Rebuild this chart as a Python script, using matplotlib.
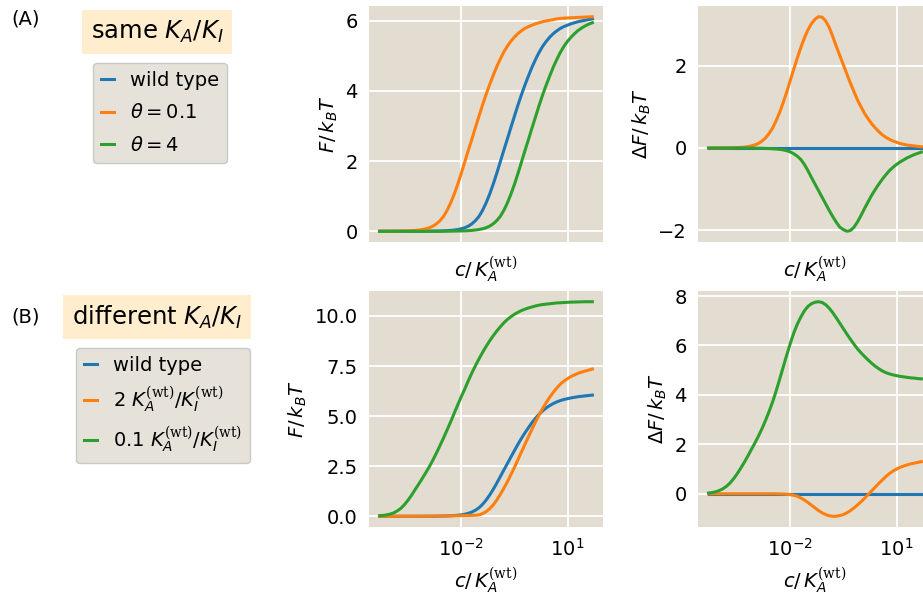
import matplotlib
matplotlib.use("Agg")
import matplotlib.pyplot as plt
import numpy as np
from matplotlib.ticker import NullLocator

plt.rcParams["font.family"] = ["DejaVu Sans"]
plt.rcParams["mathtext.fontset"] = "custom"
plt.rcParams["mathtext.rm"] = "DejaVu Sans"
plt.rcParams["mathtext.it"] = "DejaVu Sans:italic"
plt.rcParams["mathtext.bf"] = "DejaVu Sans:bold"
plt.rcParams["mathtext.sf"] = "DejaVu Serif"

# exponent of c / K_A(wt)
log_c = [-4.3, -4.2, -4.1, -4.0, -3.9, -3.8, -3.7, -3.6, -3.5, -3.4, -3.3,
         -3.2, -3.1, -3.0, -2.9, -2.8, -2.7, -2.6, -2.5, -2.4, -2.3, -2.2,
         -2.1, -2.0, -1.9, -1.8, -1.7, -1.6, -1.5, -1.4, -1.3, -1.2, -1.1,
         -1.0, -0.9, -0.8, -0.7, -0.6, -0.5, -0.4, -0.3, -0.2, -0.1, 0.0,
         0.1, 0.2, 0.3, 0.4, 0.5, 0.6, 0.7, 0.8, 0.9, 1.0, 1.1, 1.2, 1.3,
         1.4, 1.5, 1.6, 1.7]

# free energy F / kBT
F_wt = [0, 0, 0, 0, 0, 0, 0, 0, 0, 0, 0, 0,
        0.001, 0.002, 0.003, 0.005, 0.007, 0.009, 0.012, 0.018, 0.025, 0.035,
        0.05, 0.07, 0.10, 0.145, 0.21, 0.30, 0.42, 0.59, 0.80, 1.05, 1.33,
        1.64, 1.97, 2.30, 2.62, 2.95, 3.27, 3.59, 3.89, 4.17, 4.43, 4.68,
        4.90, 5.10, 5.27, 5.41, 5.53, 5.63, 5.71, 5.78, 5.83, 5.87, 5.91,
        5.94, 5.97, 5.99, 6.01, 6.03, 6.05]
F_theta01 = [0, 0, 0.001, 0.002, 0.003, 0.005, 0.007, 0.009, 0.012, 0.018,
             0.025, 0.035, 0.05, 0.07, 0.10, 0.145, 0.21, 0.30, 0.42, 0.59,
             0.80, 1.05, 1.33, 1.64, 1.97, 2.30, 2.62, 2.95, 3.27, 3.59, 3.89,
             4.17, 4.43, 4.68, 4.90, 5.10, 5.27, 5.41, 5.53, 5.63, 5.71, 5.78,
             5.83, 5.87, 5.91, 5.94, 5.97, 5.99, 6.01, 6.03, 6.05, 6.06, 6.07,
             6.075, 6.08, 6.085, 6.09, 6.095, 6.10, 6.105, 6.11]
F_theta4 = [0, 0, 0, 0, 0, 0, 0, 0, 0, 0, 0, 0, 0, 0, 0, 0, 0, 0,
            0.001, 0.002, 0.003, 0.005, 0.007, 0.009, 0.012, 0.018, 0.025,
            0.035, 0.05, 0.07, 0.10, 0.145, 0.21, 0.30, 0.42, 0.59, 0.80, 1.05,
            1.33, 1.64, 1.97, 2.30, 2.62, 2.95, 3.27, 3.59, 3.89, 4.17, 4.43,
            4.68, 4.90, 5.10, 5.27, 5.41, 5.53, 5.63, 5.72, 5.79, 5.85, 5.90,
            5.94]
F_ratio2 = [0, 0, 0, 0, 0, 0, 0, 0, 0, 0, 0, 0,
            0.001, 0.002, 0.003, 0.005, 0.007, 0.009, 0.012, 0.016, 0.02, 0.025,
            0.03, 0.035, 0.04, 0.04, 0.045, 0.05, 0.07, 0.13, 0.23, 0.37, 0.56,
            0.80, 1.08, 1.39, 1.71, 2.07, 2.43, 2.82, 3.21, 3.60, 3.98, 4.36,
            4.72, 5.07, 5.39, 5.68, 5.95, 6.19, 6.41, 6.60, 6.75, 6.87, 6.98,
            7.06, 7.14, 7.20, 7.25, 7.30, 7.35]
F_ratio01 = [0.03, 0.045, 0.07, 0.11, 0.17, 0.27, 0.40, 0.58, 0.80, 1.05, 1.33,
             1.60, 1.88, 2.17, 2.47, 2.80, 3.15, 3.52, 3.90, 4.30, 4.70, 5.13,
             5.55, 5.96, 6.35, 6.76, 7.15, 7.51, 7.85, 8.17, 8.47, 8.75, 9.00,
             9.24, 9.45, 9.65, 9.82, 9.96, 10.08, 10.18, 10.27, 10.34, 10.40,
             10.45, 10.50, 10.54, 10.57, 10.59, 10.61, 10.63, 10.65, 10.66,
             10.67, 10.68, 10.69, 10.695, 10.70, 10.705, 10.71, 10.71, 10.71]

# free energy shift dF / kBT relative to wild type
dF_wt = [0] * 61
dF_theta01 = [0, 0, 0.001, 0.001, 0.002, 0.003, 0.005, 0.007, 0.01, 0.014,
              0.02, 0.032, 0.05, 0.075, 0.11, 0.165, 0.24, 0.35, 0.48, 0.66,
              0.86, 1.10, 1.36, 1.64, 1.92, 2.19, 2.45, 2.68, 2.88, 3.03, 3.14,
              3.20, 3.19, 3.10, 2.94, 2.72, 2.48, 2.25, 2.03, 1.80, 1.58, 1.37,
              1.17, 1.00, 0.84, 0.71, 0.59, 0.49, 0.40, 0.32, 0.26, 0.21, 0.17,
              0.14, 0.11, 0.09, 0.07, 0.06, 0.05, 0.04, 0.03]
dF_theta4 = [0, 0, 0, 0, 0, 0, 0, 0, 0, 0, 0, 0,
             -0.002, -0.003, -0.005, -0.007, -0.01, -0.014, -0.019, -0.025,
             -0.033, -0.045, -0.065, -0.095, -0.14, -0.20, -0.28, -0.40, -0.55,
             -0.72, -0.88, -1.04, -1.20, -1.36, -1.52, -1.67, -1.81, -1.93,
             -1.99, -2.03, -2.01, -1.93, -1.80, -1.64, -1.47, -1.31, -1.15,
             -1.01, -0.88, -0.76, -0.65, -0.55, -0.47, -0.40, -0.34, -0.29,
             -0.24, -0.20, -0.16, -0.13, -0.10]
dF_ratio2 = [0, 0, 0, 0, 0, 0, 0, 0, 0, 0, 0, 0, 0, 0, 0, 0, 0, 0, 0,
             -0.002, -0.005, -0.01, -0.02, -0.035, -0.06, -0.10, -0.17, -0.25,
             -0.35, -0.46, -0.57, -0.68, -0.77, -0.84, -0.89, -0.91, -0.91,
             -0.88, -0.84, -0.77, -0.68, -0.57, -0.45, -0.32, -0.18, -0.03,
             0.12, 0.27, 0.42, 0.56, 0.70, 0.82, 0.92, 1.00, 1.07, 1.12, 1.17,
             1.21, 1.24, 1.27, 1.30]
dF_ratio01 = [0.03, 0.05, 0.08, 0.13, 0.20, 0.30, 0.43, 0.60, 0.80, 1.02, 1.26,
              1.51, 1.78, 2.04, 2.32, 2.62, 2.95, 3.31, 3.70, 4.14, 4.62, 5.11,
              5.60, 6.07, 6.50, 6.86, 7.15, 7.40, 7.58, 7.69, 7.75, 7.77, 7.74,
              7.65, 7.51, 7.33, 7.12, 6.90, 6.68, 6.46, 6.25, 6.05, 5.86, 5.70,
              5.55, 5.41, 5.28, 5.16, 5.06, 4.97, 4.90, 4.85, 4.81, 4.78, 4.75,
              4.73, 4.71, 4.69, 4.68, 4.66, 4.65]

labels_A = ["wild type", r"$\theta=0.1$", r"$\theta=4$"]
labels_B = ["wild type",
            r"2 $K_A^{\mathsf{(wt)}}/K_I^{\mathsf{(wt)}}$",
            r"0.1 $K_A^{\mathsf{(wt)}}/K_I^{\mathsf{(wt)}}$"]
colors = ["#1f77b4", "#ff7f0e", "#2ca02c"]

c = 10.0 ** np.array(log_c)

W, H = 923, 600
fig = plt.figure(figsize=(W / 100, H / 100), dpi=100)


def make_ax(x0, y_top, w=234, h=236):
    ax = fig.add_axes([x0 / W, 1 - (y_top + h) / H, w / W, h / H])
    ax.set_facecolor("#E3DCD0")
    for s in ax.spines.values():
        s.set_visible(False)
    ax.grid(True, color="white", lw=1.3)
    ax.set_axisbelow(True)
    ax.set_xscale("log")
    ax.set_xticks([1e-2, 1e1])
    ax.xaxis.set_minor_locator(NullLocator())
    ax.tick_params(length=0, pad=8, labelsize=14)
    return ax


ax1 = make_ax(369, 6)
ax2 = make_ax(698, 6)
ax3 = make_ax(369, 291)
ax4 = make_ax(698, 291)

lines_A = []
for ys, col in zip([F_wt, F_theta01, F_theta4], colors):
    lines_A += ax1.plot(c, ys, color=col, lw=2.2)
for ys, col in zip([dF_wt, dF_theta01, dF_theta4], colors):
    ax2.plot(c, ys, color=col, lw=2.2)
lines_B = []
for ys, col in zip([F_wt, F_ratio2, F_ratio01], colors):
    lines_B += ax3.plot(c, ys, color=col, lw=2.2)
for ys, col in zip([dF_wt, dF_ratio2, dF_ratio01], colors):
    ax4.plot(c, ys, color=col, lw=2.2)

ax1.set_yticks([0, 2, 4, 6])
ax2.set_yticks([-2, 0, 2])
ax3.set_yticks([0, 2.5, 5, 7.5, 10])
ax4.set_yticks([0, 2, 4, 6, 8])

xlab = r"$c/\,K_A^{\mathsf{(wt)}}$"
for ax in (ax1, ax2):
    ax.tick_params(labelbottom=False)
    ax.set_xlabel(xlab, fontsize=14, labelpad=9)
for ax in (ax3, ax4):
    ax.set_xlabel(xlab, fontsize=14)
for ax in (ax1, ax3):
    ax.set_ylabel(r"$F/\,k_BT$", fontsize=14)
for ax in (ax2, ax4):
    ax.set_ylabel(r"$\Delta F/\,k_BT$", fontsize=14)

fig.text(11 / W, 1 - 19 / H, "(A)", ha="left", va="center", fontsize=14)
fig.text(11 / W, 1 - 317 / H, "(B)", ha="left", va="center", fontsize=14)
box = dict(boxstyle="square,pad=0.35", fc="#FFEDCE", ec="none")
fig.text(157 / W, 1 - 32 / H, r"same $K_A/K_I$", ha="center", va="center",
         fontsize=17.5, bbox=box)
fig.text(157 / W, 1 - 317 / H, r"different $K_A/K_I$", ha="center",
         va="center", fontsize=17.5, bbox=box)

leg_kw = dict(loc="upper center", fontsize=14, handlelength=0.7,
              handletextpad=0.8, borderaxespad=0, frameon=True,
              facecolor="#E6E2DA", edgecolor="#C8C8C8", framealpha=1)
fig.legend(lines_A, labels_A, bbox_to_anchor=(160 / W, 1 - 63 / H),
           labelspacing=0.7, **leg_kw)
fig.legend(lines_B, labels_B, bbox_to_anchor=(163 / W, 1 - 348 / H),
           labelspacing=0.5, **leg_kw)

fig.savefig("out.png", dpi=100)
